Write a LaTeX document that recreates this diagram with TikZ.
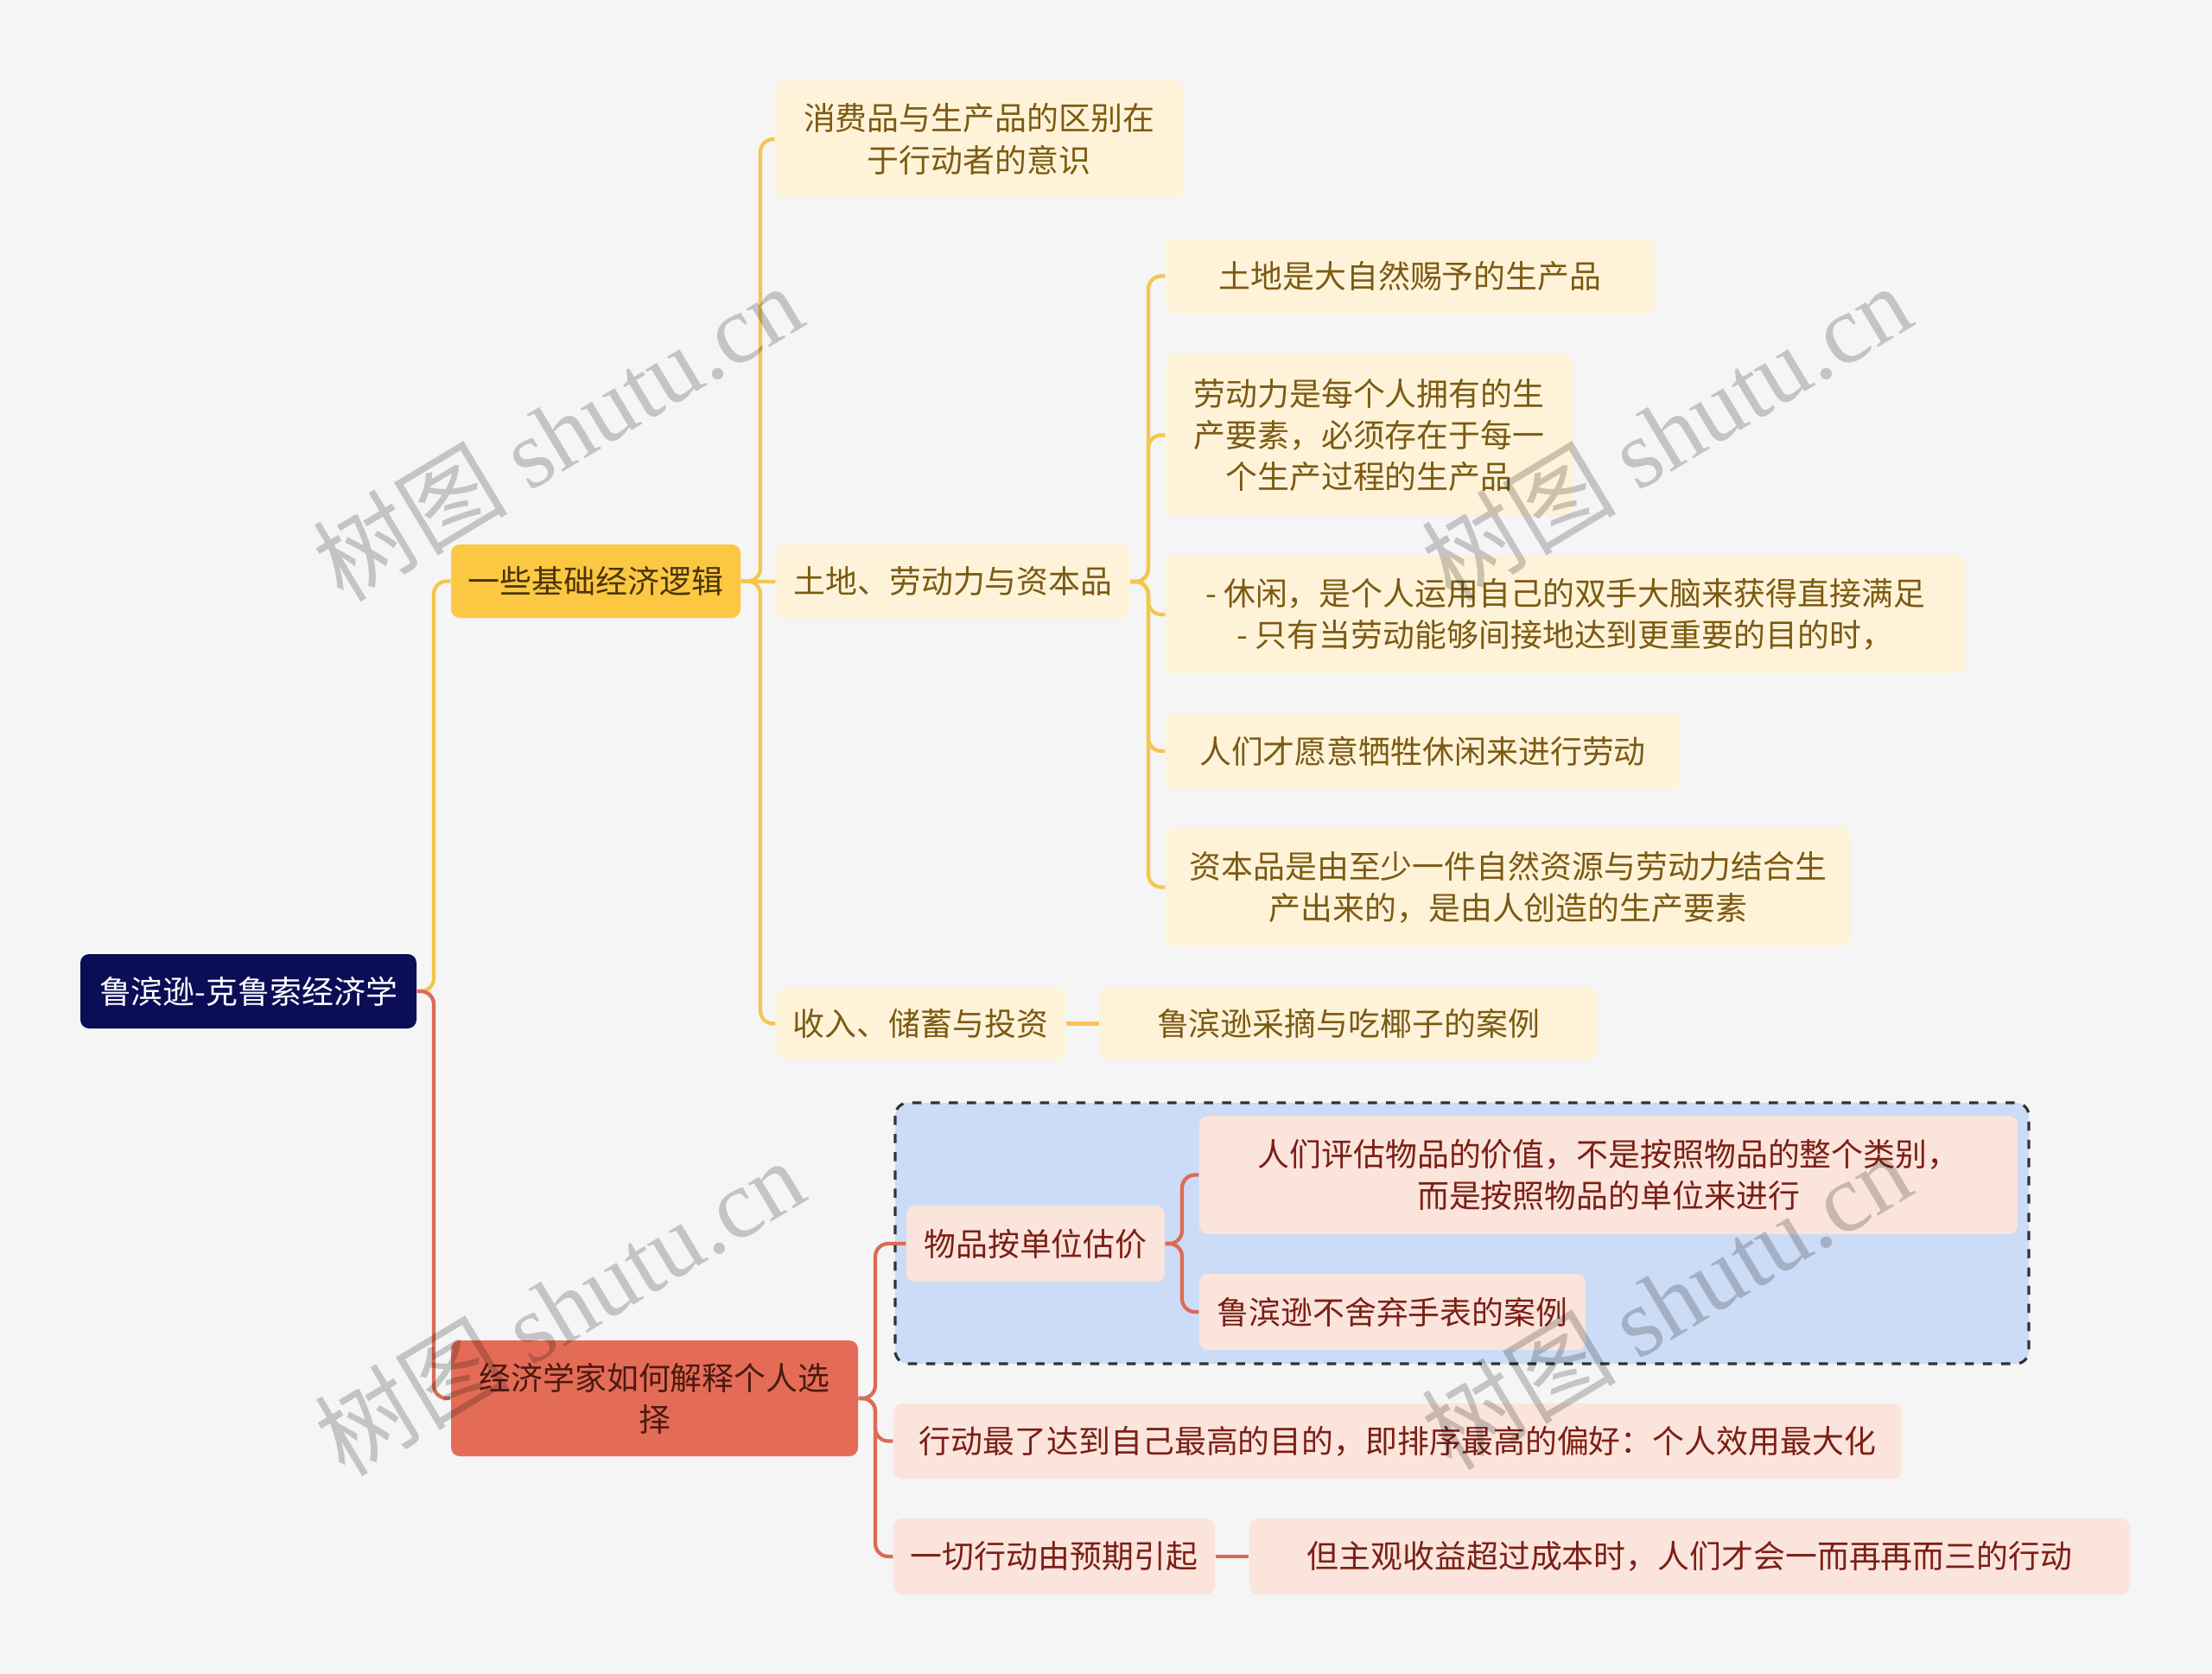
\documentclass[tikz,border=0pt]{standalone}
\usepackage{fontspec}
\setmainfont{Noto Sans CJK SC}
\newfontfamily\wmlatin{Liberation Serif}
\definecolor{bgc}{HTML}{F5F5F5}
\definecolor{rootc}{HTML}{0B0D56}
\definecolor{yline}{HTML}{F6C54D}
\definecolor{ymain}{HTML}{FCC844}
\definecolor{ymaintext}{HTML}{4A3508}
\definecolor{cream}{HTML}{FEF3D9}
\definecolor{creamtext}{HTML}{7C5A12}
\definecolor{rline}{HTML}{DC6B56}
\definecolor{rmain}{HTML}{E46C57}
\definecolor{rmaintext}{HTML}{4A1A10}
\definecolor{pink}{HTML}{FBE4DC}
\definecolor{pinktext}{HTML}{7B1F15}
\definecolor{bluebox}{HTML}{CCDCF6}

\begin{document}
\begin{tikzpicture} [scale = 1,
  box/.style = {rounded corners=0.1cm, inner sep=0pt, align=center,
                font=\fontsize{10.5}{13.7}\selectfont},
  rootbox/.style = {box, fill=rootc, text=white},
  ymainbox/.style = {box, fill=ymain, text=ymaintext},
  yleaf/.style = {box, fill=cream, text=creamtext},
  rmainbox/.style = {box, fill=rmain, text=rmaintext},
  rleaf/.style = {box, fill=pink, text=pinktext},
  ylink/.style = {draw=yline, line width=1.2pt, rounded corners=0.15cm},
  rlink/.style = {draw=rline, line width=1.2pt, rounded corners=0.15cm},
  wmark/.style = {text=black, opacity=0.2, rotate=31,
                  font=\fontsize{32}{36}\selectfont}]
\fill[bgc] (0, 0) rectangle (25.6, -19.37);
\useasboundingbox (0, 0) rectangle (25.6, -19.37);

\fill[bluebox, rounded corners=0.15cm] (10.36, -12.76) rectangle (23.48, -15.78);
\draw[black!80, dashed, line width=0.9pt, rounded corners=0.15cm] (10.36, -12.76) rectangle (23.48, -15.78);

\node[rootbox, minimum width=3.89cm, minimum height=0.86cm] (root) at (2.875, -11.47){鲁滨逊-克鲁索经济学};
\node[ymainbox, minimum width=3.35cm, minimum height=0.85cm] (jc) at (6.895, -6.725){一些基础经济逻辑};
\node[rmainbox, minimum width=4.71cm, minimum height=1.34cm] (jx) at (7.575, -16.18){经济学家如何解释个人选\\择};

\node[yleaf, minimum width=4.72cm, minimum height=1.36cm] (xfp) at (11.33, -1.61){消费品与生产品的区别在\\于行动者的意识};
\node[yleaf, minimum width=4.10cm, minimum height=0.86cm] (tdl) at (11.03, -6.73){土地、劳动力与资本品};
\node[yleaf, minimum width=3.35cm, minimum height=0.83cm] (srx) at (10.655, -11.845){收入、储蓄与投资};

\node[yleaf, minimum width=5.66cm, minimum height=0.87cm] (tdz) at (16.32, -3.195){土地是大自然赐予的生产品};
\node[yleaf, minimum width=4.71cm, minimum height=1.87cm] (ldl) at (15.845, -5.035){劳动力是每个人拥有的生\\产要素，必须存在于每一\\个生产过程的生产品};
\node[yleaf, minimum width=9.25cm, minimum height=1.36cm] (xx) at (18.115, -7.11){- 休闲，是个人运用自己的双手大脑来获得直接满足\\- 只有当劳动能够间接地达到更重要的目的时，};
\node[yleaf, minimum width=5.95cm, minimum height=0.88cm] (rmc) at (16.465, -8.69){人们才愿意牺牲休闲来进行劳动};
\node[yleaf, minimum width=7.93cm, minimum height=1.37cm] (zbp) at (17.455, -10.265){资本品是由至少一件自然资源与劳动力结合生\\产出来的，是由人创造的生产要素};
\node[yleaf, minimum width=5.75cm, minimum height=0.83cm] (yz) at (15.605, -11.845){鲁滨逊采摘与吃椰子的案例};

\node[rleaf, minimum width=2.99cm, minimum height=0.88cm] (wp) at (11.985, -14.39){物品按单位估价};
\node[rleaf, minimum width=9.47cm, minimum height=1.37cm] (rmpg) at (18.615, -13.595){人们评估物品的价值，不是按照物品的整个类别，\\而是按照物品的单位来进行};
\node[rleaf, minimum width=4.47cm, minimum height=0.88cm] (lbx) at (16.115, -15.18){鲁滨逊不舍弃手表的案例};
\node[rleaf, minimum width=11.67cm, minimum height=0.87cm] (xdz) at (16.175, -16.675){行动最了达到自己最高的目的，即排序最高的偏好：个人效用最大化};
\node[rleaf, minimum width=3.72cm, minimum height=0.88cm] (yqx) at (12.2, -18.01){一切行动由预期引起};
\node[rleaf, minimum width=10.19cm, minimum height=0.88cm] (zgs) at (19.555, -18.01){但主观收益超过成本时，人们才会一而再再而三的行动};

\coordinate (t0) at (5.02, -11.47);
\coordinate (t1) at (8.8, -6.725);
\coordinate (t2) at (13.29, -6.73);
\coordinate (t3) at (10.13, -16.18);
\coordinate (t4) at (13.68, -14.39);

\draw[ylink] (root.east) -- (t0) |- (jc.west);
\draw[rlink] (root.east) -- (t0) |- (jx.west);
\draw[ylink] (jc.east) -- (t1) |- (xfp.west);
\draw[ylink] (jc.east) -- (tdl.west);
\draw[ylink] (jc.east) -- (t1) |- (srx.west);
\draw[ylink] (tdl.east) -- (t2) |- (tdz.west);
\draw[ylink] (tdl.east) -- (t2) |- (ldl.west);
\draw[ylink] (tdl.east) -- (t2) |- (xx.west);
\draw[ylink] (tdl.east) -- (t2) |- (rmc.west);
\draw[ylink] (tdl.east) -- (t2) |- (zbp.west);
\draw[ylink] (srx.east) -- (yz.west);
\draw[rlink] (jx.east) -- (t3) |- (wp.west);
\draw[rlink] (jx.east) -- (t3) |- (xdz.west);
\draw[rlink] (jx.east) -- (t3) |- (yqx.west);
\draw[rlink] (wp.east) -- (t4) |- (rmpg.west);
\draw[rlink] (wp.east) -- (t4) |- (lbx.west);
\draw[rlink] (yqx.east) -- (zgs.west);

\node[wmark] (wm1) at (6.45, -5.0){树图 {\wmlatin shutu.cn}};
\node[wmark] (wm2) at (19.28, -5.0){树图 {\wmlatin shutu.cn}};
\node[wmark] (wm3) at (6.47, -15.12){树图 {\wmlatin shutu.cn}};
\node[wmark] (wm4) at (19.28, -15.05){树图 {\wmlatin shutu.cn}};
\end{tikzpicture}
\end{document}
